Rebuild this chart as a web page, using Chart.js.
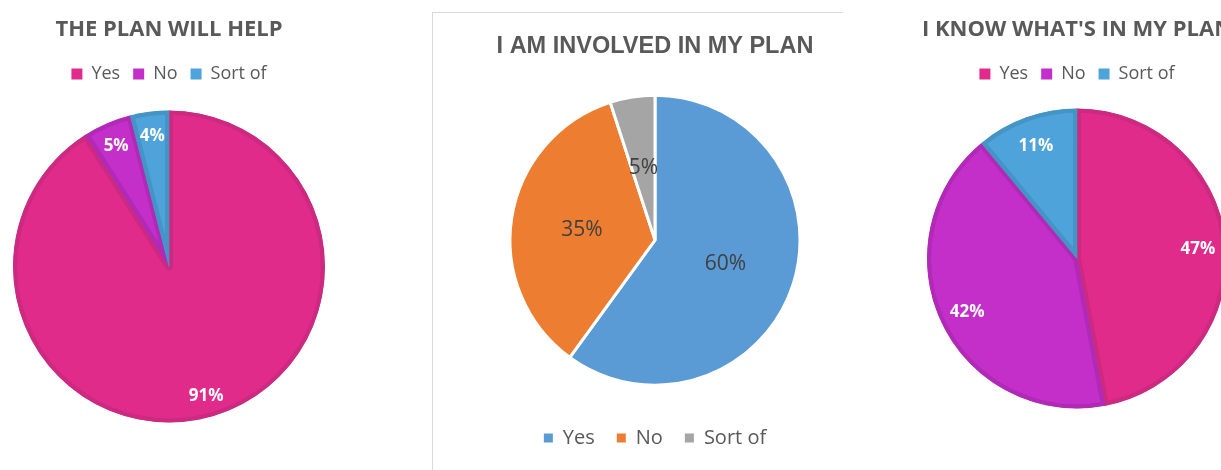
<!DOCTYPE html>
<html><head><meta charset="utf-8">
<script src="https://cdn.jsdelivr.net/npm/chart.js@4.4.1/dist/chart.umd.min.js"></script>
<style>
html,body{margin:0;padding:0;background:#fff;width:1221px;height:470px;overflow:hidden;position:relative}
canvas{position:absolute}
#frame{position:absolute;left:432px;top:12px;width:410px;height:470px;border-left:1px solid #D9D9D9;border-top:1px solid #D9D9D9}
</style></head><body>
<div id="frame"></div>
<canvas id="c1" width="336" height="470" style="left:1px;top:0"></canvas>
<canvas id="c2" width="444" height="457" style="left:433px;top:13px"></canvas>
<canvas id="c3" width="336" height="470" style="left:909px;top:0"></canvas>
<script>
const categories = ['Yes', 'No', 'Sort of'];
const helpValues = [91, 5, 4];
const involvedValues = [60, 35, 5];
const knowValues = [47, 42, 11];
const titleHelp = 'THE PLAN WILL HELP';
const titleInvolved = 'I AM INVOLVED IN MY PLAN';
const titleKnow = "I KNOW WHAT'S IN MY PLAN";

const pinkFill = ['#E02B8A', '#C52FC9', '#4DA3DA'];
const pinkBorder = ['#CC2A80', '#B02AB6', '#4494C6'];
const officeFill = ['#5B9BD5', '#ED7D31', '#A5A5A5'];

const pieLabels = {
  id: 'pieLabels',
  afterDatasetsDraw(chart, args, opts) {
    const {ctx} = chart;
    const meta = chart.getDatasetMeta(0);
    const data = chart.data.datasets[0].data;
    const total = data.reduce((a, b) => a + b, 0);
    ctx.save();
    ctx.font = opts.font;
    ctx.fillStyle = opts.color;
    ctx.textAlign = 'center';
    ctx.textBaseline = 'middle';
    meta.data.forEach((arc, i) => {
      const p = arc.getProps(['x', 'y', 'startAngle', 'endAngle', 'outerRadius'], true);
      const a = (p.startAngle + p.endAngle) / 2;
      const r = p.outerRadius * opts.radius;
      ctx.fillText(Math.round(data[i] / total * 100) + '%', p.x + Math.cos(a) * r, p.y + Math.sin(a) * r + (opts.dy || 0));
    });
    ctx.restore();
  }
};

function noStrokeLabels(chart) {
  return Chart.overrides.doughnut.plugins.legend.labels.generateLabels(chart)
    .map(l => Object.assign(l, {lineWidth: 0}));
}

function pinkChart(id, values, title, radius, padBottom, labelR) {
  return new Chart(document.getElementById(id), {
    type: 'pie',
    data: {
      labels: categories,
      datasets: [{
        data: values,
        backgroundColor: pinkFill,
        borderColor: pinkBorder,
        borderWidth: 4,
        borderAlign: 'inner',
        radius: radius
      }]
    },
    plugins: [pieLabels],
    options: {
      responsive: false,
      animation: false,
      devicePixelRatio: 1,
      layout: {padding: {top: 0, bottom: padBottom, left: 0, right: 0}},
      plugins: {
        tooltip: {enabled: false},
        title: {
          display: true, text: title, color: '#595959',
          font: {family: 'Open Sans', weight: 'bold', size: 22, lineHeight: 1.2},
          padding: {top: 16.8, bottom: 8.8}
        },
        legend: {
          position: 'top',
          labels: {
            color: '#595959', boxWidth: 11, boxHeight: 11, padding: 13,
            font: {family: 'Open Sans', size: 18},
            generateLabels: noStrokeLabels
          }
        },
        pieLabels: {font: 'bold 17px "Open Sans"', color: '#FFFFFF', radius: labelR, dy: 2}
      }
    }
  });
}

pinkChart('c1', helpValues, titleHelp, 156, 30, 0.853);
pinkChart('c3', knowValues, titleKnow, 150, 46, 0.81);

new Chart(document.getElementById('c2'), {
  type: 'pie',
  data: {
    labels: categories,
    datasets: [{
      data: involvedValues,
      backgroundColor: officeFill,
      borderColor: '#FFFFFF',
      borderWidth: 3,
      radius: 145
    }]
  },
  plugins: [pieLabels],
  options: {
    responsive: false,
    animation: false,
    devicePixelRatio: 1,
    layout: {padding: {top: 0, bottom: 12, left: 0, right: 0}},
    plugins: {
      tooltip: {enabled: false},
      title: {
        display: true, text: titleInvolved, color: '#595959',
        font: {family: 'Liberation Sans', weight: 'bold', size: 23.5, lineHeight: 1.2},
        padding: {top: 19.9, bottom: 13.2}
      },
      legend: {
        position: 'bottom',
        labels: {
          color: '#595959', boxWidth: 9, boxHeight: 9, padding: 22,
          font: {family: 'Open Sans', size: 20},
          generateLabels: noStrokeLabels
        }
      },
      pieLabels: {font: '21px "Open Sans"', color: '#404040', radius: 0.51, dy: 1}
    }
  }
});
</script>
</body></html>
